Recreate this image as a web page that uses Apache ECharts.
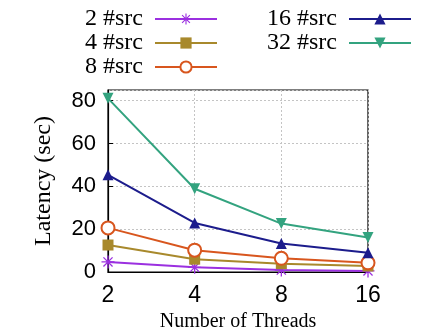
<!DOCTYPE html>
<html>
<head>
<meta charset="utf-8">
<script src="https://cdn.jsdelivr.net/npm/echarts@6/dist/echarts.min.js"></script>
<style>html,body{margin:0;padding:0;background:#fff}#c{width:440px;height:330px}</style>
</head>
<body>
<div id="c"></div>
<script>
const categories = ['2', '4', '8', '16'];
const seriesNames = ['2 #src', '4 #src', '8 #src', '16 #src', '32 #src'];
const src2 = [4.7, 2.2, 0.9, 0.5];
const src4 = [12.6, 6.0, 3.9, 2.8];
const src8 = [20.6, 10.2, 6.4, 4.3];
const src16 = [45.4, 22.9, 13.3, 9.0];
const src32 = [81.1, 38.9, 22.6, 16.1];
const yTicks = [0, 20, 40, 60, 80];

const asterisk = 'path://M-1,-10L1,-10L1,10L-1,10Z M-10,-1L10,-1L10,1L-10,1Z M-7.7,-6.3L-6.3,-7.7L7.7,6.3L6.3,7.7Z M6.3,-7.7L7.7,-6.3L-6.3,7.7L-7.7,6.3Z';
const colors = ['#9b30e0', '#a8892c', '#d8561e', '#1c1c8c', '#33a37f'];
const symbols = [asterisk, 'rect', 'emptyCircle', 'triangle', 'triangle'];
const sizes = [13, 11, 13, 11, 11];
const rotates = [0, 0, 0, 0, 180];
const dataSets = [src2, src4, src8, src16, src32];

const chart = echarts.init(document.getElementById('c'), null, {renderer: 'canvas'});
const legendText = {fontFamily: 'Liberation Serif', fontSize: 24, color: '#000', lineHeight: 24, padding: [0, 7, 0, 0]};
const gridLine = {show: true, lineStyle: {color: '#c4c4c4', type: [2, 2], width: 1, opacity: 1}};
chart.setOption({
  animation: false,
  backgroundColor: '#fff',
  legend: [
    {data: seriesNames.slice(0, 3), orient: 'vertical', align: 'right', right: 217, top: 2,
     itemWidth: 62, itemHeight: 14, itemGap: 0, textStyle: legendText},
    {data: seriesNames.slice(3), orient: 'vertical', align: 'right', right: 23, top: 2,
     itemWidth: 62, itemHeight: 14, itemGap: 0, textStyle: legendText}
  ],
  grid: {left: 108, right: 72, top: 90, bottom: 58, show: true, borderColor: '#000', borderWidth: 1.2,
    backgroundColor: 'transparent', containLabel: false, outerBoundsMode: 'none'},
  xAxis: {
    type: 'category', data: categories, boundaryGap: false,
    name: 'Number of Threads', nameLocation: 'middle', nameGap: 35,
    nameTextStyle: {fontFamily: 'Liberation Serif', fontSize: 20, color: '#000'},
    axisLine: {show: true, lineStyle: {color: '#000', width: 1.2}},
    axisTick: {show: true, inside: true, length: 5, lineStyle: {color: '#000'}},
    axisLabel: {fontFamily: 'Liberation Sans', fontSize: 23, color: '#000', margin: 12},
    splitLine: gridLine
  },
  yAxis: {
    type: 'value', min: 0, max: 85, interval: 20,
    name: 'Latency (sec)', nameLocation: 'middle', nameGap: 52, nameRotate: 90,
    nameTextStyle: {fontFamily: 'Liberation Serif', fontSize: 24, color: '#000'},
    axisLine: {show: true, lineStyle: {color: '#000', width: 1.2}},
    axisTick: {show: true, inside: true, length: 5, lineStyle: {color: '#000'}},
    axisLabel: {fontFamily: 'Liberation Sans', fontSize: 22, color: '#000', margin: 12, showMaxLabel: false,
      formatter: v => yTicks.includes(v) ? String(v) : ''},
    splitLine: gridLine
  },
  series: seriesNames.map((n, i) => ({
    name: n, type: 'line', data: dataSets[i],
    symbol: symbols[i], symbolSize: sizes[i], symbolRotate: rotates[i], showAllSymbol: true,
    color: colors[i],
    lineStyle: {width: 2, color: colors[i]},
    itemStyle: {color: colors[i], borderColor: colors[i], borderWidth: i === 2 ? 2 : 0},
    z: 2 + i
  }))
});
</script>
</body>
</html>
